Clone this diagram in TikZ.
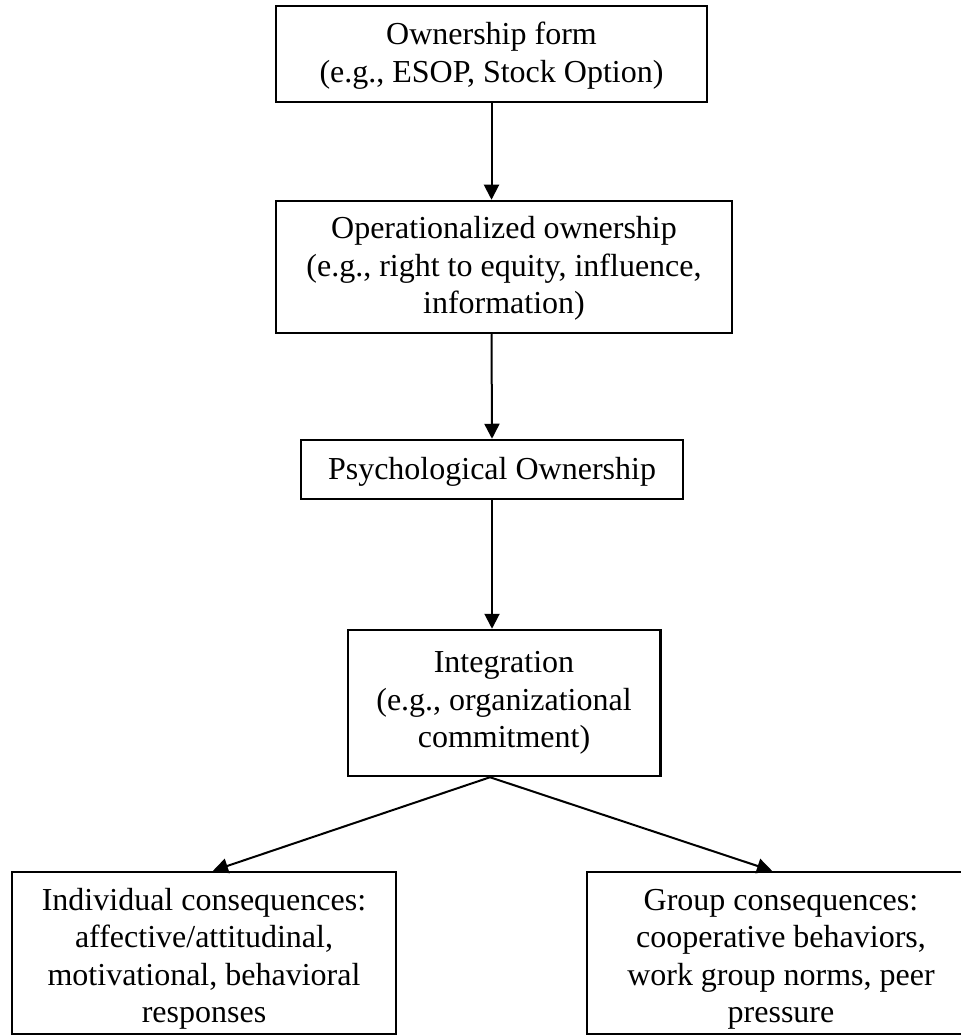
\documentclass[tikz,border=0pt]{standalone}
\usepackage{fontspec}
\setmainfont{Liberation Serif}
\usetikzlibrary{arrows.meta}
\tikzset{box/.style={draw, line width=1.25pt, inner sep=0pt, align=center, font=\fontsize{16pt}{18.75pt}\selectfont},
  flow/.style={line width=1pt, -{Triangle[length=7.5pt, width=7.5pt]}}}

\begin{document}
\begin{tikzpicture}[x=0.5pt, y=-0.5pt]
\useasboundingbox (0,0) rectangle (961,1036);
\clip (0,0) rectangle (961,1036);
\node[box, minimum width=215.5pt, minimum height=48pt] (form) at (491.5,54) {\rule{0pt}{13pt}Ownership form\\(e.g., ESOP, Stock Option)};
\node[box, minimum width=228pt, minimum height=66pt] (oper) at (504,267) {\rule{0pt}{12.5pt}Operationalized ownership\\(e.g., right to equity, influence,\\information)};
\node[box, minimum width=191pt, minimum height=29.5pt] (psych) at (492,469.5) {\rule{0pt}{13pt}Psychological Ownership};
\node[box, minimum width=156.25pt, minimum height=73pt] (integ) at (504,703) {Integration\\(e.g., organizational\\commitment)};
\node[box, minimum width=192pt, minimum height=81pt] (indiv) at (204,953) {\rule{0pt}{17pt}Individual consequences:\\affective/attitudinal,\\motivational, behavioral\\responses};
\node[box, minimum width=194pt, minimum height=81pt] (group) at (781,953) {\rule{0pt}{17pt}Group consequences:\\cooperative behaviors,\\work group norms, peer\\pressure};
\draw[flow] (form.south) -- (form.south |- oper.north);
\draw[flow] (form.south |- oper.south) -- (psych.north);
\draw[flow] (psych.south) -- (psych.south |- integ.north);
\draw[flow] ([xshift=-7pt]integ.south) -- ([xshift=4.5pt]indiv.north);
\draw[flow] ([xshift=-7pt]integ.south) -- ([xshift=-4.5pt]group.north);
\end{tikzpicture}
\end{document}
